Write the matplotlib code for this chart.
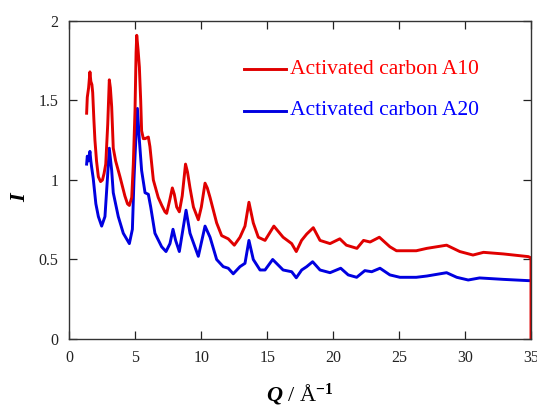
"""Scattering intensity curves for two activated carbon samples."""

import matplotlib

matplotlib.use("Agg")
import matplotlib.pyplot as plt

# Q in 1/Angstrom, I in arbitrary units.
Q_A10 = [1.30, 1.35, 1.45, 1.55, 1.62, 1.70, 1.76, 1.85, 1.93, 2.05, 2.19, 2.36,
         2.50, 2.62, 2.75, 2.90, 3.02, 3.10, 3.20, 3.32, 3.50, 3.83, 4.20, 4.40,
         4.54, 4.72, 4.84, 4.97, 5.05, 5.10, 5.20, 5.30, 5.40, 5.47, 5.60, 5.73,
         5.98, 6.10, 6.36, 6.73, 7.00, 7.24, 7.37, 7.62, 7.80, 7.95, 8.13, 8.33,
         8.55, 8.80, 8.95, 9.14, 9.40, 9.77, 10.00, 10.28, 10.45, 10.66, 11.16,
         11.54, 12.04, 12.50, 12.93, 13.31, 13.61, 13.94, 14.32, 14.83, 15.50,
         16.20, 16.85, 17.20, 17.60, 17.99, 18.49, 19.00, 19.76, 20.50, 21.00,
         21.80, 22.30, 22.80, 23.50, 24.30, 24.80, 26.30, 27.10, 28.60, 29.60,
         30.60, 31.40, 32.90, 34.80, 35.00, 35.00]
I_A10 = [1.42, 1.52, 1.58, 1.68, 1.62, 1.60, 1.55, 1.38, 1.25, 1.12, 1.02, 0.99,
         1.00, 1.04, 1.10, 1.35, 1.63, 1.58, 1.46, 1.20, 1.12, 1.02, 0.90, 0.85,
         0.84, 0.89, 1.10, 1.44, 1.80, 1.91, 1.82, 1.71, 1.50, 1.31, 1.26, 1.26,
         1.27, 1.21, 1.00, 0.89, 0.84, 0.80, 0.79, 0.88, 0.95, 0.91, 0.83, 0.80,
         0.90, 1.10, 1.05, 0.95, 0.83, 0.75, 0.83, 0.98, 0.95, 0.89, 0.73,
         0.65, 0.63, 0.59, 0.64, 0.71, 0.86, 0.73, 0.64, 0.62, 0.71,
         0.64, 0.60, 0.55, 0.62, 0.66, 0.70, 0.62, 0.60, 0.63, 0.59,
         0.57, 0.62, 0.61, 0.64, 0.58, 0.555, 0.555, 0.57, 0.59, 0.55,
         0.528, 0.545, 0.535, 0.518, 0.51, 0.0]

Q_A20 = [1.30, 1.35, 1.45, 1.55, 1.62, 1.68, 1.80, 2.00, 2.19, 2.44, 2.69, 2.87,
         3.02, 3.20, 3.32, 3.70, 4.08, 4.54, 4.77, 4.89, 4.97, 5.15, 5.30, 5.47,
         5.73, 5.98, 6.16, 6.48, 6.99, 7.32, 7.62, 7.85, 8.05, 8.33, 8.84, 9.14,
         9.77, 10.28, 10.66, 11.16, 11.66, 12.04, 12.42, 12.93, 13.31, 13.61,
         13.94, 14.45, 14.83, 15.41, 16.20, 16.85, 17.20, 17.61, 17.99, 18.44,
         19.00, 19.76, 20.57, 21.14, 21.78, 22.40, 22.92, 23.55, 24.30, 25.06,
         26.30, 27.10, 28.60, 29.37, 30.24, 31.10, 32.90, 34.80, 35.00]
I_A20 = [1.10, 1.15, 1.12, 1.18, 1.12, 1.08, 1.01, 0.85, 0.77, 0.71, 0.77, 1.00,
         1.20, 1.06, 0.92, 0.77, 0.665, 0.60, 0.69, 1.00, 1.15, 1.45, 1.25, 1.06,
         0.92, 0.91, 0.83, 0.665, 0.58, 0.55, 0.60, 0.69, 0.62, 0.55, 0.81, 0.665,
         0.52, 0.71, 0.64, 0.50, 0.455, 0.445, 0.41, 0.455, 0.476, 0.62,
         0.50, 0.434, 0.434, 0.50, 0.434, 0.423, 0.385, 0.434, 0.455, 0.486,
         0.434, 0.417, 0.445, 0.403, 0.388, 0.43, 0.423, 0.445, 0.403, 0.388,
         0.388, 0.396, 0.417, 0.388, 0.371, 0.384, 0.375, 0.367, 0.367]

X_TICKS = [0, 5, 10, 15, 20, 25, 30, 35]
Y_TICKS = [0, 0.5, 1, 1.5, 2]
Y_TICK_LABELS = ["0", "0.5", "1", "1.5", "2"]

RED = "#e00000"
BLUE = "#0000e0"

plt.rcParams["font.family"] = ["Liberation Serif", "DejaVu Serif"]
plt.rcParams["mathtext.fontset"] = "custom"
plt.rcParams["mathtext.rm"] = "Liberation Serif"
plt.rcParams["mathtext.bf"] = "Liberation Serif:bold"
plt.rcParams["mathtext.it"] = "Liberation Serif:italic"
plt.rcParams["mathtext.bfit"] = "Liberation Serif:italic:bold"

fig = plt.figure(figsize=(5.37, 4.07), dpi=100)
ax = fig.add_axes([0.1294, 0.1671, 0.8594, 0.7813])

ax.plot(Q_A20, I_A20, color=BLUE, linewidth=2.1)
ax.plot(Q_A10, I_A10, color=RED, linewidth=2.1)

ax.set_xlim(0, 35)
ax.set_ylim(0, 2)
ax.set_xticks(X_TICKS)
ax.set_yticks(Y_TICKS, Y_TICK_LABELS)
ax.tick_params(direction="in", length=6, width=0.9, top=True, right=True,
               labelsize=11.5, pad=8, colors="#222222")
for spine in ax.spines.values():
    spine.set_linewidth(1.0)
    spine.set_color("#333333")

ax.set_xlabel(r"$\mathbfit{Q}$ / Å$^{\mathbf{-1}}$", fontsize=16, labelpad=11)
ax.set_ylabel(r"$\mathbfit{I}$", fontsize=16)
# The axis letter sits a little below the middle of the axis in the original.
ax.yaxis.set_label_coords(-0.085, 0.45)

# Hand-drawn style key, as in the reference figure.
ax.plot([13.2, 16.4], [1.697, 1.697], color=RED, linewidth=2.1)
ax.plot([13.2, 16.4], [1.434, 1.434], color=BLUE, linewidth=2.1)
ax.text(16.75, 1.697, "Activated carbon A10", color="#ff0000", fontsize=15.5,
        va="center", ha="left")
ax.text(16.75, 1.434, "Activated carbon A20", color="#0000ff", fontsize=15.5,
        va="center", ha="left")

fig.savefig("out.png", dpi=100)
